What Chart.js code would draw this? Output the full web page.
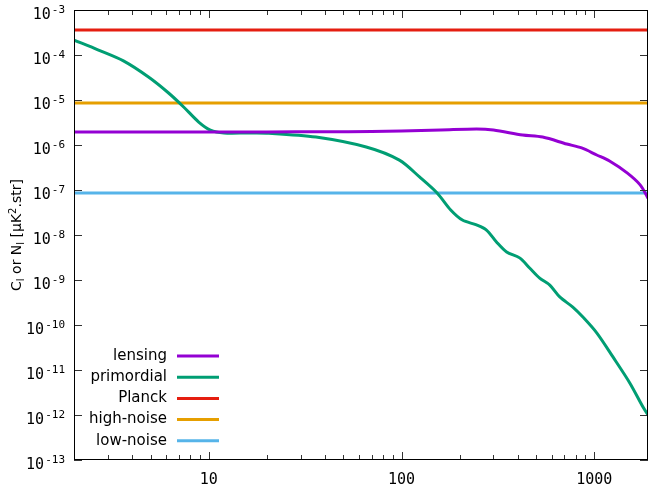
<!DOCTYPE html>
<html>
<head>
<meta charset="utf-8">
<script src="https://cdn.jsdelivr.net/npm/chart.js@4"></script>
<style>
  html, body { margin: 0; padding: 0; background: #fff; }
  #box { width: 649px; height: 488px; }
</style>
</head>
<body>
<div id="box"><canvas id="myChart"></canvas></div>
<script>
// multipoles and spectra
var ellRange = [2, 1900];
var lensingEll = [2, 5, 10, 20, 40, 70, 100, 160, 245, 300, 425, 540, 720, 860, 1030, 1200, 1480, 1730, 1900];
var lensingCl = [1.95e-6, 1.95e-6, 1.95e-6, 1.95e-6, 1.97e-6, 2.0e-6, 2.05e-6, 2.15e-6, 2.27e-6, 2.15e-6, 1.67e-6, 1.5e-6, 1.05e-6, 8.6e-7, 6e-7, 4.4e-7, 2.4e-7, 1.3e-7, 6.6e-8];
var primordialEll = [2, 2.68, 3.61, 4.87, 6.19, 7.41, 8.87, 10.2, 12, 16, 20.5, 36, 65.6, 97.5, 124, 153, 180, 207, 245, 276, 311, 351, 410, 462, 521, 588, 662, 774, 873, 1032, 1250, 1531, 1790, 1900];
var primordialCl = [2.15e-4, 1.29e-4, 7.4e-5, 3.24e-5, 1.43e-5, 7e-6, 3.24e-6, 2.15e-6, 1.85e-6, 1.85e-6, 1.83e-6, 1.5e-6, 9e-7, 4.6e-7, 1.95e-7, 8.6e-8, 3.6e-8, 2.15e-8, 1.67e-8, 1.29e-8, 7e-9, 4.2e-9, 3.1e-9, 1.85e-9, 1.1e-9, 7.7e-10, 4.2e-10, 2.5e-10, 1.5e-10, 6.6e-11, 1.95e-11, 5.1e-12, 1.5e-12, 1.0e-12];
var planckNoise = 3.6e-4;
var highNoise = 8.6e-6;
var lowNoise = 8.6e-8;
var xTicks = [10, 100, 1000];
var yTicks = [1e-13, 1e-12, 1e-11, 1e-10, 1e-9, 1e-8, 1e-7, 1e-6, 1e-5, 1e-4, 1e-3];

function pts(xs, ys) {
  return xs.map(function (x, i) { return {x: x, y: ys[i]}; });
}
function flat(v) {
  return ellRange.map(function (x) { return {x: x, y: v}; });
}

// frame with inward ticks on all four sides, like gnuplot
var frame = {
  id: 'frame',
  afterDatasetsDraw: function (chart) {
    var c = chart.ctx, a = chart.chartArea;
    var xs = chart.scales.x, ys = chart.scales.y;
    c.save();
    c.strokeStyle = '#333';
    c.lineWidth = 1;
    c.beginPath();
    for (var d = 1; d < 10000; d *= 10) {
      for (var m = 1; m < 10; m++) {
        var v = d * m;
        if (v < ellRange[0] || v > ellRange[1]) continue;
        var px = Math.round(xs.getPixelForValue(v)) + 0.5;
        var len = m == 1 ? 8 : 5;
        c.moveTo(px, a.bottom); c.lineTo(px, a.bottom - len);
        c.moveTo(px, a.top); c.lineTo(px, a.top + len);
      }
    }
    yTicks.forEach(function (v) {
      var py = Math.round(ys.getPixelForValue(v)) + 0.5;
      c.moveTo(a.left, py); c.lineTo(a.left + 8, py);
      c.moveTo(a.right, py); c.lineTo(a.right - 8, py);
    });
    c.stroke();
    c.strokeStyle = '#000';
    c.strokeRect(a.left + 0.5, a.top + 0.5, a.right - a.left - 1, a.bottom - a.top - 1);

    // y tick labels 10^n with a real superscript
    c.fillStyle = '#000';
    c.textBaseline = 'alphabetic';
    c.textAlign = 'left';
    yTicks.forEach(function (v) {
      var py = ys.getPixelForValue(v);
      var e = String(Math.round(Math.log10(v)));
      c.font = '11px "DejaVu Sans Mono"';
      var we = c.measureText(e).width;
      c.font = '15px "DejaVu Sans Mono"';
      var wb = c.measureText('10').width;
      var x0 = a.left - 10 - we - wb;
      c.fillText('10', x0, py + 9);
      c.font = '11px "DejaVu Sans Mono"';
      c.fillText(e, x0 + wb + 1, py + 3);
    });

    // y axis title with subscripts
    c.save();
    c.translate(21, (a.top + a.bottom) / 2);
    c.rotate(-Math.PI / 2);
    var parts = [['C', 14, 0], ['l', 10, 3], [' or N', 14, 0], ['l', 10, 3], [' [μK', 14, 0], ['2', 10, -5], ['.str]', 14, 0]];
    var total = 0;
    parts.forEach(function (p) { c.font = p[1] + 'px "DejaVu Sans"'; total += c.measureText(p[0]).width; });
    var x = -total / 2;
    parts.forEach(function (p) {
      c.font = p[1] + 'px "DejaVu Sans"';
      c.fillText(p[0], x, p[2]);
      x += c.measureText(p[0]).width;
    });
    c.restore();
    c.restore();
  }
};

// legend: text on the left, line sample on the right
var keyBox = {
  id: 'keyBox',
  afterDraw: function (chart) {
    var c = chart.ctx;
    c.save();
    c.font = '15px "DejaVu Sans"';
    c.textAlign = 'right';
    c.textBaseline = 'middle';
    chart.data.datasets.forEach(function (ds, i) {
      var y = 356 + i * 21.2;
      c.fillStyle = '#000';
      c.fillText(ds.label, 167, y);
      c.strokeStyle = ds.borderColor;
      c.lineWidth = 3;
      c.beginPath();
      c.moveTo(177, y); c.lineTo(219, y);
      c.stroke();
    });
    c.restore();
  }
};

var ctx = document.getElementById('myChart');
var myChart = new Chart(ctx, {
  type: 'line',
  data: {
    datasets: [{
      label: 'lensing',
      data: pts(lensingEll, lensingCl),
      borderColor: '#9400d3'
    }, {
      label: 'primordial',
      data: pts(primordialEll, primordialCl),
      borderColor: '#009e73'
    }, {
      label: 'Planck',
      data: flat(planckNoise),
      borderColor: '#e51e10'
    }, {
      label: 'high-noise',
      data: flat(highNoise),
      borderColor: '#e69f00'
    }, {
      label: 'low-noise',
      data: flat(lowNoise),
      borderColor: '#56b4e9'
    }]
  },
  options: {
    responsive: true,
    maintainAspectRatio: false,
    animation: false,
    layout: { padding: { top: 10, right: 1 } },
    elements: {
      point: { radius: 0 },
      line: { borderWidth: 3, tension: 0.3 }
    },
    plugins: {
      legend: { display: false },
      tooltip: { enabled: false }
    },
    scales: {
      x: {
        type: 'logarithmic',
        min: ellRange[0],
        max: ellRange[1],
        grid: { display: false },
        border: { display: false },
        afterBuildTicks: function (s) { s.ticks = xTicks.map(function (v) { return {value: v}; }); },
        afterFit: function (s) { s.height = 28; },
        ticks: {
          autoSkip: false,
          maxRotation: 0,
          padding: 3,
          color: '#000',
          font: { family: '"DejaVu Sans Mono"', size: 15 },
          callback: function (v) { return String(v); }
        }
      },
      y: {
        type: 'logarithmic',
        min: 1e-13,
        max: 1e-3,
        grid: { display: false },
        border: { display: false },
        afterBuildTicks: function (s) { s.ticks = yTicks.map(function (v) { return {value: v}; }); },
        afterFit: function (s) { s.width = 74; },
        ticks: { display: false }
      }
    }
  },
  plugins: [frame, keyBox]
});
</script>
</body>
</html>
